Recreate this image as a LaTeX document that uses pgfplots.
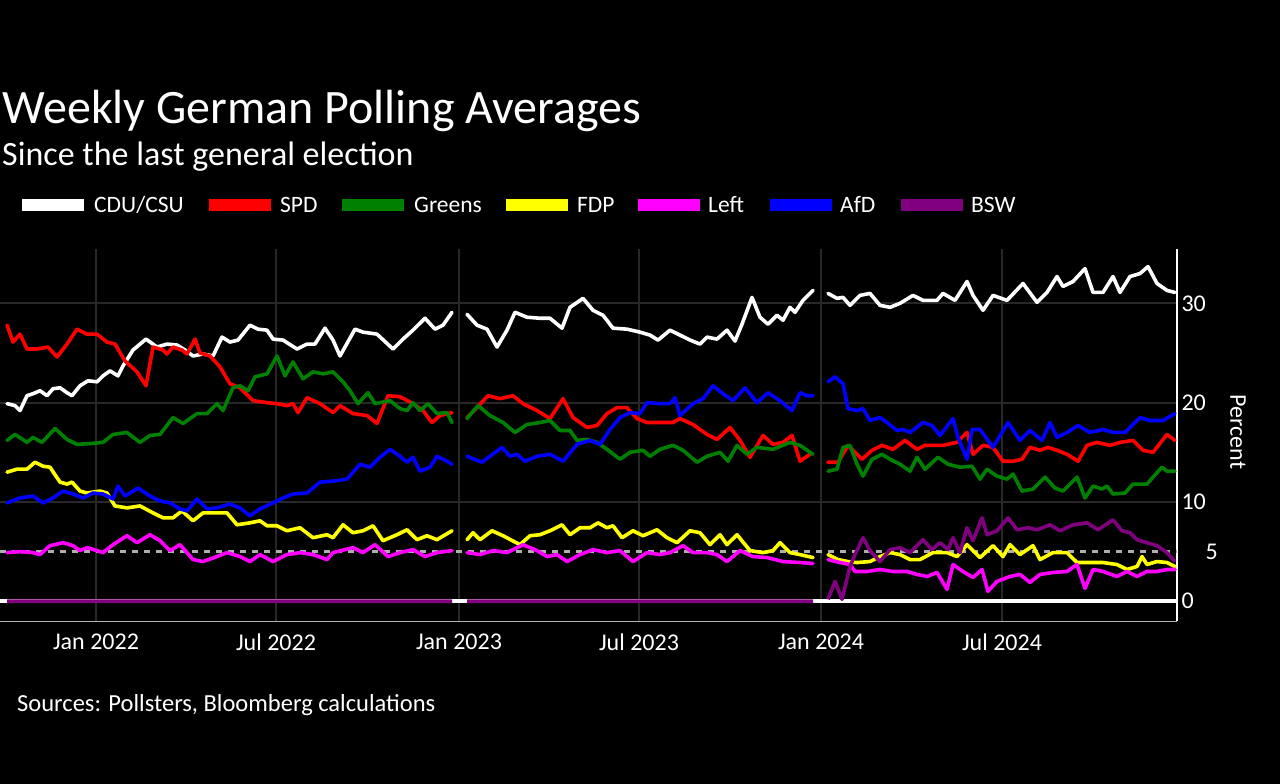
\documentclass[border=0pt]{standalone}
\usepackage{fontspec}
\setmainfont{Carlito}
\usepackage{pgfplots}
\pgfplotsset{compat=1.18}
\definecolor{gridc}{RGB}{40,40,40}
\definecolor{cspd}{RGB}{255,0,0}
\definecolor{cgrn}{RGB}{0,128,0}
\definecolor{cfdp}{RGB}{255,255,0}
\definecolor{cleft}{RGB}{255,0,255}
\definecolor{cafd}{RGB}{0,0,255}
\definecolor{cbsw}{RGB}{128,0,128}
\definecolor{dashc}{RGB}{175,175,175}
\begin{document}
\begin{tikzpicture}[x=1pt,y=1pt]
\useasboundingbox (0,0) rectangle (1280,784);
\fill[black] (0,0) rectangle (1280,784);
\node[anchor=base west, inner sep=0, text=white, font=\fontsize{48}{56}\selectfont] at (2,660) {Weekly German Polling Averages};
\node[anchor=base west, inner sep=0, text=white, font=\fontsize{34}{40}\selectfont] at (2,618) {Since the last general election};
\foreach \sx/\col/\tx/\lab in {22/white/94/CDU\slash CSU, 209/cspd/280/SPD, 342/cgrn/414/Greens, 506/cfdp/577/FDP, 638/cleft/708/Left, 770/cafd/840/AfD, 901/cbsw/971/BSW}{
  \fill[\col] (\sx,573) rectangle ++(62,12);
  \node[anchor=base west, inner sep=0, text=white, font=\fontsize{23.5}{28}\selectfont] at (\tx,571.5) {\lab};
}
\node[anchor=base west, inner sep=0, text=white, font=\fontsize{24.5}{29}\selectfont] at (17,72) {Sources: Pollsters, Bloomberg calculations};
\node[rotate=-90, text=white, font=\fontsize{24}{28}\selectfont, inner sep=0] at (1238,352) {Percent};
\begin{axis}[
  at={(0,164)}, anchor=south west, scale only axis,
  width=1177pt, height=372.4pt,
  xmin=-96, xmax=1081, ymin=-2, ymax=35.5,
  axis x line*=bottom, axis y line*=right,
  x axis line style={color=gray!60, line width=1pt},
  y axis line style={color=white, line width=2pt},
  xtick={0,180,363,543,725,906},
  xticklabels={Jan 2022,Jul 2022,Jan 2023,Jul 2023,Jan 2024,Jul 2024},
  ytick={0,10,20,30},
  extra y ticks={5}, extra y tick labels={5},
  extra y tick style={grid=none, yticklabel style={xshift=24pt}},
  major tick length=0pt,
  xmajorgrids, ymajorgrids,
  major grid style={color=gridc, line width=2pt},
  /pgf/number format/assume math mode=true,
  tick label style={text=white, font=\fontsize{24}{28}\selectfont},
  xticklabel style={yshift=-9pt},
  yticklabel style={xshift=1pt},
  unbounded coords=jump,
  every axis plot/.append style={line width=3.6pt, line join=round, line cap=round},
]
\addplot[dashc, line width=2.5pt, line cap=butt, dash pattern=on 6pt off 6pt, forget plot] coordinates {(-96,5) (1081,5)};
\addplot[white, line width=4pt, line cap=butt, forget plot] coordinates {(-96,0) (1081,0)};
% CDU/CSU
\addplot[white] coordinates {
(-89,19.9) (-81,19.7) (-76,19.2) (-69,20.7) (-63,20.9) (-56,21.2) (-49,20.7) (-43,21.4) (-36,21.5) (-29,21.0) (-24,20.7) (-16,21.7) (-8,22.2) (1,22.1) (7,22.7) (14,23.2) (22,22.7) (27,23.7) (37,25.3) (50,26.4) (61,25.6) (71,25.9) (81,25.8) (89,25.3) (97,24.7) (107,24.9) (117,24.7) (126,26.6) (134,26.1) (142,26.3) (154,27.8) (162,27.4) (171,27.3) (177,26.4) (187,26.3) (201,25.4) (211,25.9) (219,25.9) (229,27.5) (237,26.3) (244,24.7) (259,27.4) (267,27.1) (281,26.9) (297,25.4) (307,26.4) (317,27.3) (329,28.5) (339,27.4) (347,27.8) (356,29.1)
(364,nan)
(371,28.9) (381,27.8) (391,27.4) (401,25.6) (411,27.3) (419,29.1) (431,28.6) (444,28.5) (454,28.5) (466,27.5) (474,29.6) (487,30.5) (497,29.3) (507,28.8) (517,27.5) (531,27.4) (544,27.1) (554,26.8) (562,26.3) (574,27.3) (584,26.8) (594,26.3) (604,25.9) (611,26.6) (621,26.4) (631,27.3) (639,26.2) (646,27.9) (656,30.6) (664,28.6) (672,27.9) (681,28.8) (687,28.3) (694,29.6) (699,29.1) (707,30.3) (717,31.3)
(725,nan)
(732,31.0) (741,30.5) (747,30.6) (754,29.8) (764,30.8) (774,31.0) (784,29.8) (794,29.6) (804,30.0) (817,30.8) (827,30.3) (841,30.3) (847,31.0) (859,30.3) (871,32.2) (877,30.8) (887,29.3) (897,30.8) (911,30.3) (927,32.0) (941,30.1) (951,31.1) (961,32.7) (967,31.7) (977,32.2) (989,33.5) (997,31.1) (1007,31.1) (1017,32.7) (1024,31.1) (1034,32.7) (1044,33.0) (1052,33.7) (1061,32.0) (1071,31.3) (1079,31.1)
};
% SPD
\addplot[cspd] coordinates {
(-89,27.8) (-83,26.1) (-76,26.9) (-69,25.4) (-59,25.4) (-48,25.6) (-39,24.6) (-29,25.9) (-19,27.4) (-9,26.9) (1,26.9) (11,26.1) (19,25.9) (29,24.2) (41,23.1) (50,21.7) (57,25.6) (67,25.3) (71,24.9) (77,25.6) (86,25.3) (91,24.9) (99,26.4) (104,25.0) (114,24.7) (124,23.6) (134,21.9) (144,21.5) (157,20.2) (171,20.0) (181,19.9) (191,19.7) (197,19.9) (202,19.0) (211,20.5) (224,19.9) (237,19.0) (244,19.7) (257,18.9) (271,18.7) (281,17.9) (292,20.7) (304,20.6) (317,19.9) (327,19.2) (336,18.0) (344,18.7) (356,19.0)
(364,nan)
(371,18.5) (381,19.5) (392,20.7) (404,20.4) (417,20.7) (427,19.9) (441,19.2) (454,18.4) (467,20.4) (477,18.5) (491,17.5) (501,17.7) (511,18.9) (521,19.5) (531,19.5) (541,18.4) (551,18.0) (564,18.0) (577,18.0) (584,18.4) (597,17.8) (611,16.8) (621,16.3) (634,17.5) (644,16.2) (654,14.5) (667,16.7) (677,15.8) (687,16.0) (696,16.7) (704,14.1) (714,14.8)
(725,nan)
(732,14.0) (742,14.0) (752,15.7) (766,14.3) (776,15.2) (786,15.7) (797,15.3) (809,16.2) (821,15.3) (829,15.7) (837,15.7) (847,15.7) (861,16.0) (871,17.0) (877,14.8) (887,15.7) (897,15.5) (907,14.1) (917,14.1) (926,14.3) (934,15.5) (944,15.2) (952,15.5) (961,15.2) (971,14.8) (982,14.1) (991,15.7) (1001,16.0) (1014,15.7) (1024,16.0) (1037,16.2) (1047,15.2) (1057,15.0) (1071,16.8) (1079,16.2)
};
% Greens
\addplot[cgrn] coordinates {
(-89,16.2) (-81,16.8) (-69,16.0) (-63,16.5) (-54,16.0) (-41,17.4) (-29,16.3) (-19,15.8) (-3,15.9) (7,16.0) (17,16.8) (31,17.0) (44,16.0) (54,16.7) (64,16.8) (77,18.5) (87,17.9) (101,18.9) (111,18.9) (121,19.9) (127,19.2) (137,21.5) (144,21.7) (152,21.2) (159,22.6) (171,22.9) (181,24.7) (189,22.7) (197,24.1) (207,22.4) (217,23.1) (227,22.9) (237,23.1) (247,22.1) (254,21.2) (262,19.9) (272,21.0) (279,19.9) (294,20.2) (304,19.4) (311,19.2) (317,20.0) (324,19.2) (332,19.9) (341,18.9) (351,19.0) (356,18.0)
(364,nan)
(371,18.4) (382,19.7) (394,18.7) (407,18.0) (419,17.0) (431,17.8) (444,18.0) (454,18.2) (464,17.2) (474,17.2) (481,16.2) (491,16.3) (501,16.0) (511,15.3) (524,14.3) (534,15.0) (547,15.2) (554,14.6) (564,15.3) (577,15.7) (587,15.2) (601,14.0) (611,14.6) (624,15.0) (632,14.1) (641,15.7) (651,14.8) (661,15.5) (677,15.3) (694,16.0) (704,15.7) (717,14.8)
(725,nan)
(732,13.1) (741,13.3) (747,15.5) (754,15.7) (761,13.8) (767,12.6) (776,14.3) (786,14.8) (794,14.3) (804,13.8) (814,13.1) (821,14.5) (829,13.3) (842,14.5) (852,13.8) (864,13.5) (876,13.6) (884,12.3) (891,13.3) (901,12.6) (911,12.3) (917,12.8) (926,11.1) (937,11.3) (949,12.5) (959,11.4) (967,11.1) (981,12.5) (989,10.4) (997,11.6) (1006,11.3) (1011,11.6) (1017,10.8) (1029,10.9) (1037,11.8) (1051,11.8) (1057,12.5) (1066,13.5) (1071,13.1) (1079,13.1)
};
% FDP
\addplot[cfdp] coordinates {
(-89,13.0) (-79,13.3) (-69,13.3) (-61,14.0) (-53,13.6) (-46,13.5) (-36,12.0) (-29,11.8) (-24,12.0) (-16,11.1) (-9,10.9) (4,11.1) (11,10.9) (19,9.6) (31,9.4) (44,9.6) (57,8.9) (67,8.4) (77,8.4) (86,9.1) (97,8.1) (107,8.9) (121,8.9) (131,8.9) (141,7.7) (154,7.9) (164,8.1) (171,7.6) (181,7.6) (191,7.1) (204,7.4) (217,6.4) (231,6.7) (237,6.4) (247,7.7) (257,6.9) (267,7.1) (277,7.6) (287,6.1) (301,6.7) (311,7.2) (321,6.2) (331,6.6) (341,6.2) (356,7.1)
(364,nan)
(371,6.2) (377,6.9) (384,6.2) (396,7.1) (407,6.6) (424,5.7) (434,6.6) (444,6.7) (454,7.1) (466,7.7) (474,6.7) (484,7.4) (494,7.4) (502,7.9) (511,7.4) (517,7.6) (526,6.4) (537,7.1) (547,6.6) (561,7.2) (571,6.4) (581,5.9) (594,7.1) (604,6.9) (614,5.7) (624,6.7) (631,5.7) (641,6.7) (654,5.1) (667,4.9) (677,5.1) (684,5.9) (694,4.9) (704,4.7) (717,4.4)
(725,nan)
(732,4.7) (742,4.2) (752,4.0) (761,3.9) (774,4.0) (784,4.5) (794,4.9) (804,4.7) (814,4.2) (824,4.2) (837,4.9) (851,4.9) (861,4.5) (871,5.7) (884,4.4) (897,5.6) (907,4.5) (914,5.7) (924,4.7) (937,5.6) (944,4.2) (957,4.9) (971,4.9) (981,3.9) (994,3.9) (1007,3.9) (1021,3.7) (1031,3.2) (1041,3.5) (1046,4.5) (1051,3.7) (1061,4.0) (1071,3.9) (1079,3.5)
};
% Left
\addplot[cleft] coordinates {
(-89,4.9) (-76,5.0) (-63,4.9) (-56,4.7) (-46,5.6) (-33,5.9) (-23,5.6) (-16,5.1) (-9,5.4) (1,5.1) (7,4.9) (17,5.7) (31,6.6) (41,5.9) (54,6.7) (64,6.1) (74,5.1) (84,5.7) (97,4.2) (107,4.0) (121,4.5) (131,4.9) (144,4.5) (154,4.0) (164,4.7) (177,4.0) (191,4.7) (204,4.9) (217,4.7) (231,4.2) (237,4.9) (257,5.4) (267,4.9) (279,5.7) (292,4.5) (304,4.9) (317,5.2) (329,4.5) (341,4.9) (356,5.1)
(364,nan)
(371,4.9) (384,4.7) (397,5.1) (411,4.9) (427,5.7) (441,5.1) (451,4.5) (461,4.7) (471,4.0) (484,4.7) (497,5.2) (511,4.9) (524,5.1) (537,4.0) (551,4.9) (564,4.7) (574,4.9) (587,5.6) (597,4.9) (611,4.9) (621,4.7) (631,4.0) (644,5.1) (657,4.5) (671,4.4) (687,4.0) (704,3.9) (717,3.8)
(725,nan)
(732,4.2) (744,3.9) (754,3.7) (759,3.0) (771,3.0) (784,3.2) (797,3.0) (811,3.0) (821,2.7) (831,2.5) (841,2.9) (851,1.2) (857,3.7) (867,3.0) (877,2.4) (886,3.2) (892,1.0) (901,2.0) (914,2.5) (924,2.7) (934,1.9) (944,2.7) (957,2.9) (971,3.0) (981,3.7) (989,1.3) (997,3.2) (1007,3.0) (1021,2.5) (1031,3.0) (1041,2.5) (1051,3.0) (1061,3.0) (1071,3.2) (1079,3.2)
};
% AfD
\addplot[cafd] coordinates {
(-89,9.9) (-76,10.4) (-63,10.6) (-53,9.9) (-43,10.4) (-33,11.1) (-23,10.8) (-13,10.4) (-3,10.9) (7,10.8) (17,10.3) (22,11.6) (29,10.6) (42,11.4) (54,10.6) (64,10.1) (74,9.9) (84,9.3) (91,9.1) (101,10.3) (111,9.3) (121,9.4) (134,9.8) (144,9.4) (154,8.6) (164,9.3) (177,9.9) (187,10.4) (197,10.8) (211,10.9) (224,12.0) (237,12.1) (251,12.3) (264,13.8) (274,13.5) (284,14.5) (294,15.3) (304,14.6) (311,14.0) (317,14.5) (324,13.1) (334,13.5) (341,14.6) (351,14.1) (356,13.8)
(364,nan)
(371,14.6) (386,14.0) (394,14.6) (406,15.5) (414,14.6) (421,14.8) (429,14.1) (441,14.6) (454,14.8) (467,14.1) (481,15.8) (494,16.2) (504,15.8) (514,17.3) (524,18.5) (534,19.0) (544,18.9) (551,20.0) (564,19.9) (574,19.9) (579,20.5) (584,18.7) (597,19.9) (607,20.4) (617,21.7) (627,20.9) (637,20.2) (649,21.5) (661,20.0) (672,21.0) (684,20.2) (696,19.2) (704,21.0) (711,20.7) (717,20.7)
(725,nan)
(732,22.1) (739,22.6) (747,21.9) (752,19.4) (761,19.2) (767,19.4) (774,18.2) (784,18.5) (791,18.0) (801,17.2) (807,17.3) (814,17.0) (827,18.0) (836,17.7) (844,16.7) (857,18.4) (862,16.5) (871,14.3) (876,17.3) (884,17.3) (897,15.5) (912,18.0) (924,16.2) (934,17.2) (946,16.2) (954,18.0) (961,16.5) (971,17.0) (982,17.7) (994,17.0) (1007,17.3) (1017,17.0) (1029,17.0) (1044,18.5) (1054,18.2) (1067,18.2) (1079,18.9)
};
% BSW
\addplot[cbsw, line cap=butt] coordinates {
(-89,0) (356,0)
(364,nan)
(371,0) (717,0)
(725,nan)
(732,0.2) (739,2.0) (746,0.2) (754,3.5) (759,4.7) (767,6.4) (774,5.1) (784,4.0) (794,5.2) (804,5.4) (814,4.9) (827,6.2) (836,5.2) (844,5.9) (852,5.2) (857,6.4) (864,4.9) (871,7.4) (877,6.1) (886,8.4) (891,6.7) (901,7.1) (912,8.4) (921,7.2) (932,7.4) (941,7.2) (954,7.7) (964,7.1) (977,7.7) (991,7.9) (1002,7.2) (1017,8.2) (1026,7.1) (1034,6.9) (1041,6.2) (1051,5.9) (1061,5.6) (1071,4.9) (1079,4.0)
};
\end{axis}
\end{tikzpicture}
\end{document}
